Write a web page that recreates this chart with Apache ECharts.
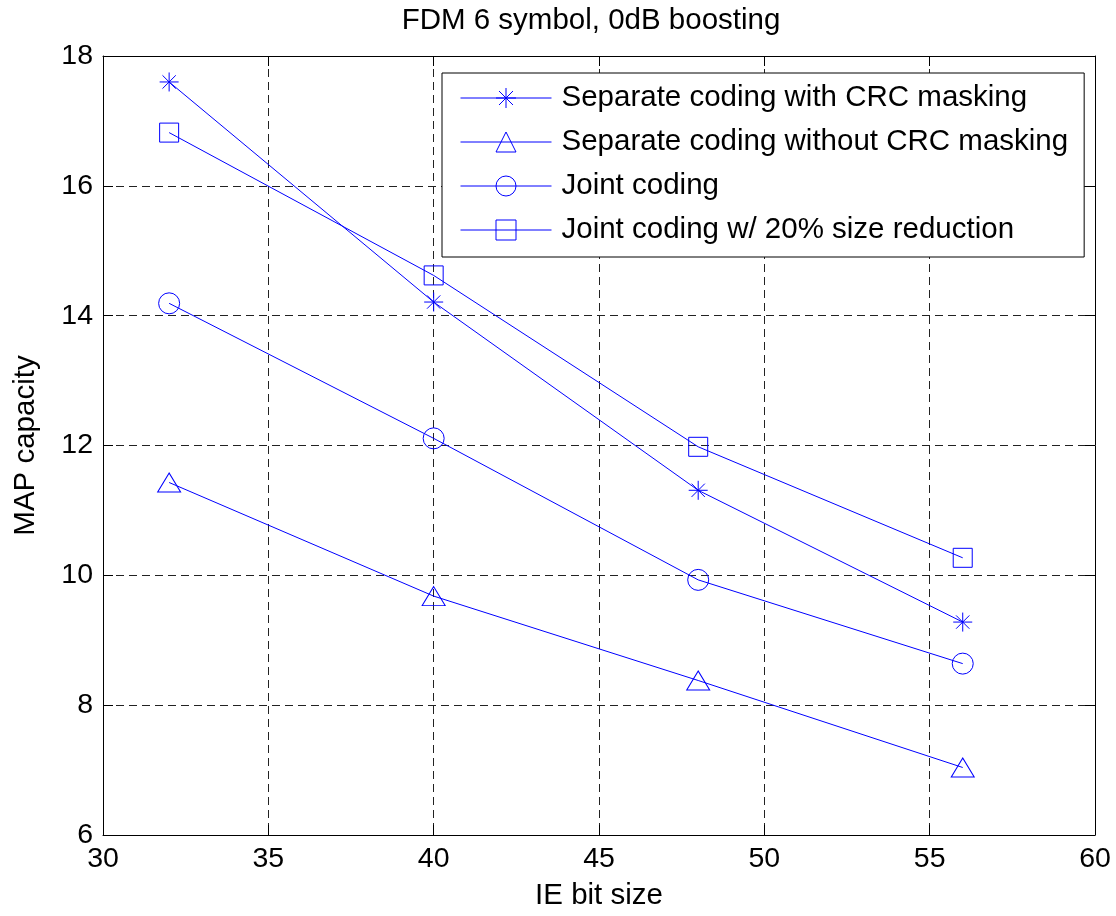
<!DOCTYPE html>
<html>
<head>
<meta charset="utf-8">
<script src="https://cdn.jsdelivr.net/npm/echarts@6/dist/echarts.min.js"></script>
<style>
html,body{margin:0;padding:0;background:#fff;}
#chart{width:1116px;height:916px;}
</style>
</head>
<body>
<div id="chart"></div>
<script>
// ---- data ----
const xValues = [32, 40, 48, 56];
const sepWithCRC = [17.6, 14.21, 11.31, 9.28];
const sepWithoutCRC = [11.43, 9.68, 8.38, 7.04];
const jointCoding = [14.19, 12.11, 9.93, 8.64];
const jointReduced = [16.82, 14.62, 11.98, 10.27];
const seriesNames = [
  'Separate coding with CRC masking',
  'Separate coding without CRC masking',
  'Joint coding',
  'Joint coding w/ 20% size reduction'
];
const titleText = 'FDM 6 symbol, 0dB boosting';
const xName = 'IE bit size';
const yName = 'MAP capacity';

// ---- styling ----
const FONT = '"Liberation Sans", Arial, sans-serif';
const BLUE = '#0000ff';
const asterisk = 'path://M10,0L10,20M0,10L20,10M3,3L17,17M3,17L17,3';

function pairs(vals) { return xValues.map((x, i) => [x, vals[i]]); }

function mkSeries(name, vals, symbol, size) {
  return {
    name: name,
    type: 'line',
    data: pairs(vals),
    symbol: symbol,
    symbolSize: size,
    showAllSymbol: true,
    lineStyle: { color: BLUE, width: 1 },
    itemStyle: { color: 'transparent', borderColor: BLUE, borderWidth: 1 },
    emphasis: { disabled: true },
    z: 3
  };
}

const chart = echarts.init(document.getElementById('chart'));
chart.setOption({
  animation: false,
  backgroundColor: '#fff',
  title: {
    text: titleText,
    left: 591,
    top: 6,
    padding: 0,
    textAlign: 'center',
    textStyle: { fontFamily: FONT, fontSize: 29.5, fontWeight: 'normal', color: '#000' }
  },
  grid: { left: 103, right: 21, top: 56, bottom: 77 },
  legend: {
    orient: 'vertical',
    left: 442,
    top: 73,
    padding: [10, 16, 12, 18],
    itemWidth: 91,
    itemHeight: 25,
    itemGap: 14,
    selectedMode: false,
    borderColor: '#000',
    borderWidth: 1,
    borderRadius: 0,
    backgroundColor: '#fff',
    itemStyle: { borderWidth: 1 },
    lineStyle: { width: 1 },
    textStyle: { fontFamily: FONT, fontSize: 29.5, color: '#000', lineHeight: 25, padding: [0, 0, 0, 5] },
    data: seriesNames
  },
  xAxis: [{
    type: 'value', min: 30, max: 60, interval: 5,
    name: xName, nameLocation: 'middle', nameGap: 46,
    nameTextStyle: { fontFamily: FONT, fontSize: 29.5, color: '#000' },
    axisLine: { show: true, lineStyle: { color: '#000', width: 1 } },
    axisTick: { show: true, inside: true, length: 10, lineStyle: { color: '#000' } },
    axisLabel: { fontFamily: FONT, fontSize: 28.5, color: '#000', margin: 10 },
    splitLine: { show: true, lineStyle: { color: '#222', width: 1, type: [8, 5] } }
  }, {
    type: 'value', min: 30, max: 60, interval: 5, position: 'top',
    axisLine: { show: true, lineStyle: { color: '#000', width: 1 } },
    axisTick: { show: true, inside: true, length: 10, lineStyle: { color: '#000' } },
    axisLabel: { show: false },
    splitLine: { show: false }
  }],
  yAxis: [{
    type: 'value', min: 6, max: 18, interval: 2,
    name: yName, nameLocation: 'middle', nameGap: 62, nameRotate: 90,
    nameTextStyle: { fontFamily: FONT, fontSize: 29.5, color: '#000' },
    axisLine: { show: true, lineStyle: { color: '#000', width: 1 } },
    axisTick: { show: true, inside: true, length: 10, lineStyle: { color: '#000' } },
    axisLabel: { fontFamily: FONT, fontSize: 28.5, color: '#000', margin: 10 },
    splitLine: { show: true, lineStyle: { color: '#222', width: 1, type: [8, 5] } }
  }, {
    type: 'value', min: 6, max: 18, interval: 2, position: 'right',
    axisLine: { show: true, lineStyle: { color: '#000', width: 1 } },
    axisTick: { show: true, inside: true, length: 10, lineStyle: { color: '#000' } },
    axisLabel: { show: false },
    splitLine: { show: false }
  }],
  series: [
    mkSeries(seriesNames[0], sepWithCRC, asterisk, 19),
    mkSeries(seriesNames[1], sepWithoutCRC, 'triangle', [23, 19]),
    mkSeries(seriesNames[2], jointCoding, 'circle', 21),
    mkSeries(seriesNames[3], jointReduced, 'rect', 19)
  ]
});
</script>
</body>
</html>
